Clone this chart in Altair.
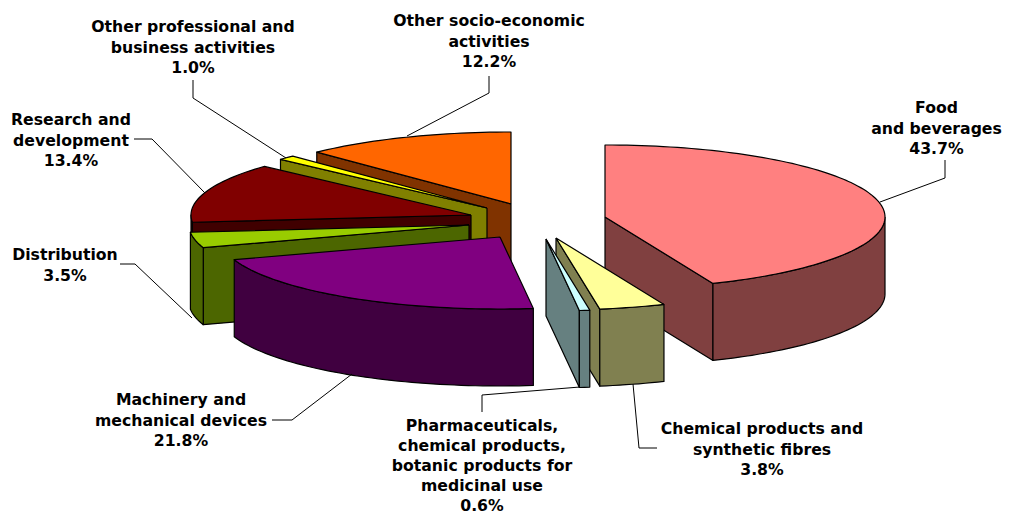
import math
import altair as alt
import pandas as pd

# ---- values ----
categories = ["Food and beverages", "Chemical products and synthetic fibres",
              "Pharmaceuticals, chemical products, botanic products for medicinal use",
              "Machinery and mechanical devices", "Distribution", "Research and development",
              "Other professional and business activities", "Other socio-economic activities"]
shares = [43.7, 3.8, 0.6, 21.8, 3.5, 13.4, 1.0, 12.2]
label_lines = [
    ["Food", "and beverages", "43.7%"],
    ["Chemical products and", "synthetic fibres", "3.8%"],
    ["Pharmaceuticals,", "chemical products,", "botanic products for", "medicinal use", "0.6%"],
    ["Machinery and", "mechanical devices", "21.8%"],
    ["Distribution", "3.5%"],
    ["Research and", "development", "13.4%"],
    ["Other professional and", "business activities", "1.0%"],
    ["Other socio-economic", "activities", "12.2%"],
]
top_colors = ["#FF8080", "#FFFF99", "#CCFFFF", "#800080", "#99CC00", "#800000", "#FFFF00", "#FF6600"]
wall_colors = ["#804040", "#808050", "#668080", "#400040", "#4C6600", "#400000", "#808000", "#803300"]

# ---- layout of the exploded tilted pie ----
apexes = [(605, 217), (556, 238), (546, 239), (500, 237), (469, 225), (471, 215), (487, 208), (511, 204)]
RX, RY, DEPTH = 280, 72, 77
draw_order = [7, 6, 5, 4, 3, 0, 1, 2]
label_pos = [(936.5, 108), (762, 429), (482, 426), (181, 400), (65, 255), (71, 120), (193, 27), (489, 21)]
line_steps = [20.7, 20.7, 20.1, 20.7, 20.7, 20.7, 20.7, 20.7]
leaders = [
    [(880, 202), (945, 178), (945, 160)],
    [(633, 384), (639, 448), (657, 448)],
    [(580, 387), (482, 395), (482, 412)],
    [(352, 374), (292, 420), (272, 420)],
    [(192, 318), (135, 264), (120, 264)],
    [(205, 193), (152, 139), (134, 139)],
    [(286, 158), (193, 98), (193, 80)],
    [(407, 136), (489, 93), (489, 76)],
]


def rim(apex, t):
    r = math.radians(t)
    return apex[0] + RX * math.sin(r), apex[1] - RY * math.cos(r)


def arc(apex, t0, t1):
    n = max(2, int(abs(t1 - t0) / 1.5) + 1)
    return [rim(apex, t0 + (t1 - t0) * k / n) for k in range(n + 1)]


def down(p):
    return p[0], p[1] + DEPTH


bounds = []
acc = 0.0
for s in shares:
    bounds.append((acc * 3.6, (acc + s) * 3.6))
    acc += s

rows = []
pid = 0


def add(points, fill):
    global pid
    pts = list(points) + [points[0]]
    for i, (x, y) in enumerate(pts):
        rows.append({"poly": pid, "i": i, "x": x, "y": y, "fill": fill})
    pid += 1


for k in draw_order:
    t0, t1 = bounds[k]
    a = apexes[k]
    # visible cut face
    if t1 < 180:
        e = rim(a, t1)
        add([a, e, down(e), down(a)], wall_colors[k])
    if t0 > 180:
        e = rim(a, t0)
        add([a, e, down(e), down(a)], wall_colors[k])
    # visible outer wall
    lo, hi = max(t0, 90), min(t1, 270)
    if lo < hi:
        edge = arc(a, lo, hi)
        add(edge + [down(p) for p in reversed(edge)], wall_colors[k])
    # top face
    add([a] + arc(a, t0, t1), top_colors[k])

faces = pd.DataFrame(rows)

leader_rows = []
for k, line in enumerate(leaders):
    for i, (x, y) in enumerate(line):
        leader_rows.append({"id": k, "i": i, "x": x, "y": y})
leader_df = pd.DataFrame(leader_rows)

text_rows = []
for k, lines in enumerate(label_lines):
    cx, cy = label_pos[k]
    for j, t in enumerate(lines):
        text_rows.append({"x": cx, "y": cy + j * line_steps[k], "t": t})
text_df = pd.DataFrame(text_rows)

xs = alt.Scale(domain=[8, 1003], range=[0, 995], nice=False, zero=False)
ys = alt.Scale(domain=[8, 515], range=[0, 507], nice=False, zero=False)
X = alt.X("x:Q", scale=xs, axis=None)
Y = alt.Y("y:Q", scale=ys, axis=None)

pie = alt.Chart(faces).mark_line(filled=True, stroke="#000000", strokeWidth=1.2, strokeJoin="round", clip=False).encode(
    x=X, y=Y, detail="poly:N", order="i:Q", color=alt.Color("fill:N", scale=None, legend=None)
)
lead = alt.Chart(leader_df).mark_line(color="#000000", strokeWidth=1).encode(
    x=X, y=Y, detail="id:N", order="i:Q"
)
labels = alt.Chart(text_df).mark_text(
    font="DejaVu Sans", fontWeight="bold", fontSize=15.7, color="#000000", align="center", baseline="middle"
).encode(x=X, y=Y, text="t:N")

chart = alt.layer(pie, lead, labels).properties(
    width=995, height=507, padding=0, autosize=alt.AutoSizeParams(type="none"), background="white"
).configure_view(stroke=None)

chart.save("out.html", embed_options={"renderer": "svg", "actions": False})
